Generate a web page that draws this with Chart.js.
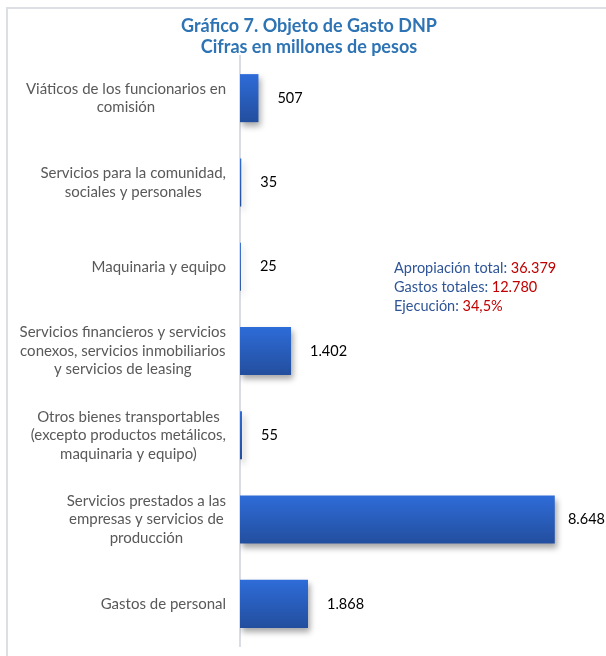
<!DOCTYPE html>
<html>
<head>
<meta charset="utf-8">
<script src="https://cdn.jsdelivr.net/npm/chart.js@4.4.1/dist/chart.umd.min.js"></script>
<style>
  html, body { margin: 0; padding: 0; background: #ffffff; }
  #wrap { width: 606px; height: 656px; position: relative; }
</style>
</head>
<body>
<div id="wrap"><canvas id="c" width="606" height="656"></canvas></div>
<script>
// ---- Data ----
const categories = [
  ["Viáticos de los funcionarios en", "comisión"],
  ["Servicios para la comunidad,", "sociales y personales"],
  ["Maquinaria y equipo"],
  ["Servicios financieros y servicios", "conexos, servicios inmobiliarios", "y servicios de leasing"],
  ["Otros bienes transportables", "(excepto productos metálicos,", "maquinaria y equipo)"],
  ["Servicios prestados a las", "empresas y servicios de", "producción"],
  ["Gastos de personal"]
];
const values = [507, 35, 25, 1402, 55, 8648, 1868];
const valueLabels = ["507", "35", "25", "1.402", "55", "8.648", "1.868"];
const titleLines = ["Gráfico 7. Objeto de Gasto DNP", "Cifras en millones de pesos"];
const noteLabels = ["Apropiación total: ", "Gastos totales: ", "Ejecución: "];
const noteValues = ["36.379", "12.780", "34,5%"];

const FONT = "Lato, Carlito, 'Liberation Sans', sans-serif";

const decorPlugin = {
  id: 'decor',
  beforeDraw(chart) {
    const ctx = chart.ctx;
    ctx.save();
    ctx.fillStyle = '#ffffff';
    ctx.fillRect(0, 0, chart.width, chart.height);
    // frame
    ctx.strokeStyle = '#dcdfe4';
    ctx.lineWidth = 2;
    ctx.beginPath();
    ctx.moveTo(7, chart.height);
    ctx.lineTo(7, 8);
    ctx.lineTo(chart.width, 8);
    ctx.stroke();
    // title
    ctx.fillStyle = '#2E74B5';
    ctx.font = "bold 18px " + FONT;
    ctx.textAlign = 'center';
    ctx.textBaseline = 'middle';
    ctx.fillText(titleLines[0], 309, 26);
    ctx.fillText(titleLines[1], 309, 47);
    ctx.restore();
  },
  beforeDatasetDraw(chart) {
    const ctx = chart.ctx;
    ctx.save();
    ctx.shadowColor = 'rgba(0,0,0,0.35)';
    ctx.shadowBlur = 6;
    ctx.shadowOffsetX = 2;
    ctx.shadowOffsetY = 4;
  },
  afterDatasetDraw(chart) {
    chart.ctx.restore();
  },
  afterDraw(chart) {
    const ctx = chart.ctx;
    const ys = chart.scales.y;
    const meta = chart.getDatasetMeta(0);
    ctx.save();
    // category labels
    ctx.fillStyle = '#595959';
    ctx.font = "15px " + FONT;
    ctx.textBaseline = 'middle';
    ctx.textAlign = 'center';
    const lh = 18.5;
    categories.forEach((lines, i) => {
      const yc = ys.getPixelForValue(i);
      let maxW = 0;
      lines.forEach(l => { maxW = Math.max(maxW, ctx.measureText(l).width); });
      const right = 226;
      const cx = right - maxW / 2;
      const y0 = yc - (lines.length - 1) * lh / 2;
      lines.forEach((l, k) => ctx.fillText(l, cx, y0 + k * lh));
    });
    // value labels
    ctx.fillStyle = '#000000';
    ctx.font = "14.5px " + FONT;
    ctx.textAlign = 'left';
    meta.data.forEach((bar, i) => {
      const w = ctx.measureText(valueLabels[i]).width;
      const x = Math.min(bar.x + 19, chart.width - 1 - w);
      ctx.fillText(valueLabels[i], x, bar.y);
    });
    // note
    ctx.font = "14.5px " + FONT;
    const nx = 394;
    const ny = [268, 287, 306];
    noteLabels.forEach((t, i) => {
      ctx.fillStyle = '#2F5597';
      ctx.fillText(t, nx, ny[i]);
      const w = ctx.measureText(t).width;
      ctx.fillStyle = '#C00000';
      ctx.fillText(noteValues[i], nx + w, ny[i]);
    });
    ctx.restore();
  }
};

new Chart(document.getElementById('c'), {
  type: 'bar',
  data: {
    labels: categories.map(c => c.join(' ')),
    datasets: [{
      data: values,
      backgroundColor: (context) => {
        const chart = context.chart;
        const ys = chart.scales.y;
        if (!chart.chartArea || !ys) return '#2a5fc0';
        const yc = ys.getPixelForValue(context.dataIndex);
        const h = Math.abs(ys.getPixelForValue(1) - ys.getPixelForValue(0)) * 0.57;
        const g = chart.ctx.createLinearGradient(0, yc - h / 2, 0, yc + h / 2);
        g.addColorStop(0, '#2E6CD8');
        g.addColorStop(1, '#234E9E');
        return g;
      },
      borderWidth: 0,
      categoryPercentage: 1,
      barPercentage: 0.57
    }]
  },
  options: {
    indexAxis: 'y',
    responsive: false,
    animation: false,
    devicePixelRatio: 1,
    layout: { padding: { top: 56, bottom: 10, left: 240, right: 2 } },
    plugins: { legend: { display: false }, tooltip: { enabled: false }, title: { display: false } },
    scales: {
      x: { display: false, min: 0, max: 10000 },
      y: {
        ticks: { display: false },
        grid: { display: false },
        border: { display: true, color: '#d9dde3', width: 2 },
        afterFit: (s) => { s.width = 0; }
      }
    }
  },
  plugins: [decorPlugin]
});
</script>
</body>
</html>
